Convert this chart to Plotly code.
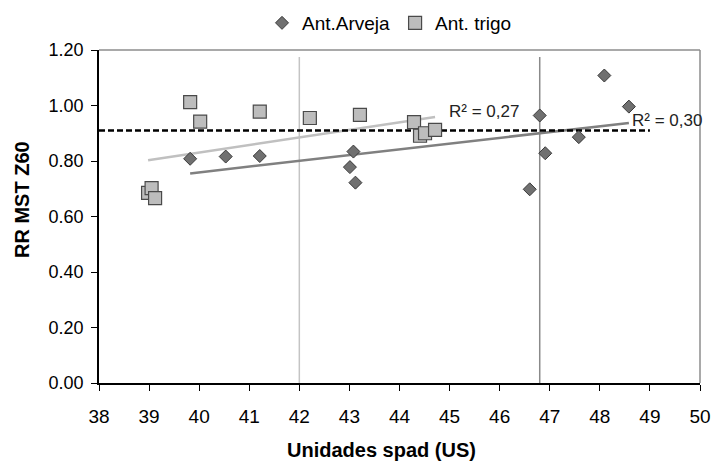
import numpy as np
import plotly.graph_objects as go

# ---- data ----
arveja_x = [39.82, 40.53, 41.21, 43.01, 43.08, 43.12, 46.60, 46.80, 46.91, 47.58, 48.09, 48.58]
arveja_y = [0.808, 0.816, 0.818, 0.778, 0.834, 0.722, 0.698, 0.964, 0.828, 0.886, 1.108, 0.996]

trigo_x = [38.98, 39.05, 39.12, 39.82, 40.02, 41.21, 42.21, 43.21, 44.29, 44.41, 44.51, 44.71]
trigo_y = [0.685, 0.702, 0.666, 1.012, 0.942, 0.978, 0.955, 0.966, 0.940, 0.891, 0.900, 0.912]

ref_level = 0.91          # dashed reference line
ref_x = [38, 49]
vlines_x = [42.0, 46.8]   # vertical reference lines
vline_top = 1.175

r2_labels = ["R² = 0,27", "R² = 0,30"]
r2_pos_x = [44.95, 48.6]
r2_pos_y = [0.977, 0.945]

x_ticks = list(range(38, 51))
y_ticks = [0.0, 0.2, 0.4, 0.6, 0.8, 1.0, 1.2]

FONT = "Liberation Sans, Arial, sans-serif"

fig = go.Figure()

# vertical lines
fig.add_trace(go.Scatter(x=[vlines_x[0], vlines_x[0]], y=[0, vline_top], mode="lines",
                         line=dict(color="#c4c4c4", width=1.5), showlegend=False, hoverinfo="skip"))
fig.add_trace(go.Scatter(x=[vlines_x[1], vlines_x[1]], y=[0, vline_top], mode="lines",
                         line=dict(color="#8a8a8a", width=1.5), showlegend=False, hoverinfo="skip"))

# trend lines (least squares)
def trend(xs, ys):
    m, b = np.polyfit(xs, ys, 1)
    xx = np.array([min(xs), max(xs)])
    return xx, m * xx + b

tx, ty = trend(trigo_x, trigo_y)
fig.add_trace(go.Scatter(x=tx, y=ty, mode="lines", line=dict(color="#c0c0c0", width=2.5),
                         showlegend=False, hoverinfo="skip"))
ax, ay = trend(arveja_x, arveja_y)
fig.add_trace(go.Scatter(x=ax, y=ay, mode="lines", line=dict(color="#808080", width=2.5),
                         showlegend=False, hoverinfo="skip"))

# dashed reference
fig.add_trace(go.Scatter(x=ref_x, y=[ref_level, ref_level], mode="lines",
                         line=dict(color="black", width=2.5, dash="6px,3px"),
                         showlegend=False, hoverinfo="skip"))

# markers
fig.add_trace(go.Scatter(x=arveja_x, y=arveja_y, mode="markers", name="Ant.Arveja",
                         marker=dict(symbol="diamond", size=10, color="#707070",
                                     line=dict(color="#3a3a3a", width=1))))
fig.add_trace(go.Scatter(x=trigo_x, y=trigo_y, mode="markers", name="Ant. trigo",
                         marker=dict(symbol="square", size=13, color="#bdbdbd",
                                     line=dict(color="#4a4a4a", width=1.2))))

for t, px, py in zip(r2_labels, r2_pos_x, r2_pos_y):
    fig.add_annotation(x=px, y=py, text=t, showarrow=False, xanchor="left", yanchor="middle",
                       font=dict(family=FONT, size=17, color="#222222"))

# axis titles as annotations
fig.add_annotation(xref="paper", yref="paper", x=(381 - 99) / 601, y=-(450 - 383) / 333,
                   text="<b>Unidades spad (US)</b>", showarrow=False, xanchor="center", yanchor="middle",
                   font=dict(family=FONT, size=20, color="black"))
fig.add_annotation(xref="paper", yref="paper", x=-(99 - 22) / 601, y=(383 - 200) / 333,
                   text="<b>RR MST Z60</b>", showarrow=False, textangle=-90, xanchor="center",
                   yanchor="middle", font=dict(family=FONT, size=20, color="black"))

# frame (top and right)
fig.add_shape(type="line", xref="paper", yref="paper", x0=0, x1=1, y0=1, y1=1,
              line=dict(color="#8c8c8c", width=1.5))
fig.add_shape(type="line", xref="paper", yref="paper", x0=1, x1=1, y0=0, y1=1,
              line=dict(color="#8c8c8c", width=1.5))

fig.update_layout(
    width=711, height=465,
    margin=dict(l=99, r=11, t=50, b=82, autoexpand=False),
    paper_bgcolor="white", plot_bgcolor="white",
    font=dict(family=FONT, color="black"),
    legend=dict(orientation="h", x=(262 - 99) / 601, y=1 + (50 - 4) / 333, xanchor="left", yanchor="top",
                font=dict(family=FONT, size=19, color="black"), itemwidth=30,
                bgcolor="rgba(0,0,0,0)", tracegroupgap=0),
)
fig.update_xaxes(range=[38, 50], tickvals=x_ticks, ticktext=[str(v) for v in x_ticks],
                 showgrid=False, zeroline=False, showline=True, linecolor="black", linewidth=1.5,
                 ticks="outside", ticklen=6, tickcolor="black", tickfont=dict(size=19, family=FONT),
                 ticklabelstandoff=9, automargin=False)
fig.update_yaxes(range=[0, 1.2], tickvals=y_ticks, ticktext=[f"{v:.2f}" for v in y_ticks],
                 showgrid=False, zeroline=False, showline=True, linecolor="black", linewidth=1.5,
                 ticks="outside", ticklen=6, tickcolor="black", tickfont=dict(size=18, family=FONT),
                 ticklabelstandoff=4, automargin=False)

fig.write_html("out.html")
